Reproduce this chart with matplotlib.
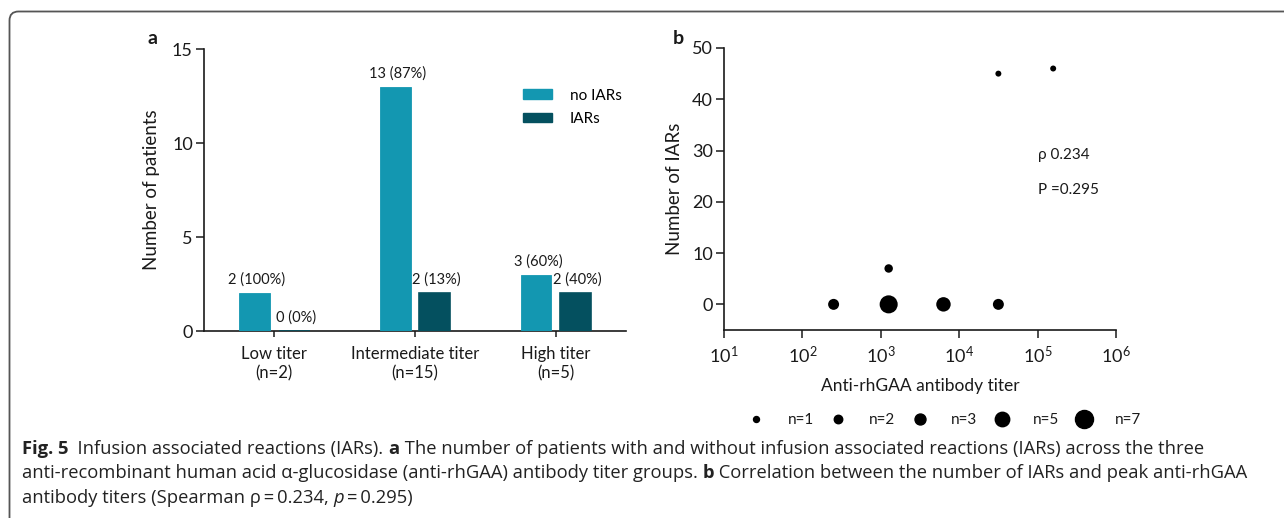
import numpy as np
import matplotlib
matplotlib.use("Agg")
import matplotlib.pyplot as plt
from matplotlib.lines import Line2D
from matplotlib.patches import Patch, FancyBboxPatch
from matplotlib.transforms import IdentityTransform

plt.rcParams["font.family"] = ["Lato", "DejaVu Sans"]

# ---- data -----------------------------------------------------------------
groups = ["Low titer", "Intermediate titer", "High titer"]
group_n = [2, 15, 5]
no_iars = [2, 13, 3]
iars = [0, 2, 2]

titer = [250, 1260, 1260, 6300, 31600, 31600, 158000]
n_iars = [0, 0, 7, 0, 0, 45, 46]
n_pat = [3, 7, 2, 5, 3, 1, 1]
legend_n = [1, 2, 3, 5, 7]

rho, pval = 0.234, 0.295

# ---- style ----------------------------------------------------------------
C_LIGHT = "#1397b1"
C_DARK = "#04505f"
INK = "#1a1a1a"
MS = {1: 4.3, 2: 6.1, 3: 7.9, 5: 10.4, 7: 13.0}  # marker diameter (pt) per n

W, H = 1284, 518
fig = plt.figure(figsize=(W / 100, H / 100), dpi=100)


def fbox(l, t, r, b):
    return [l / W, 1 - b / H, (r - l) / W, (b - t) / H]


# ---- panel a --------------------------------------------------------------
ax = fig.add_axes(fbox(204, 49, 626, 331))
x = np.arange(len(groups))
bw, off = 0.22, 0.14
b1 = ax.bar(x - off, no_iars, bw, color=C_LIGHT, ec=C_LIGHT, lw=0.6, zorder=3)
b2 = ax.bar(x + off, iars, bw, color=C_DARK, ec=C_DARK, lw=1.2, zorder=3)
for bars, vals in ((b1, no_iars), (b2, iars)):
    for rect, v, n in zip(bars, vals, group_n):
        ax.annotate(f"{v} ({round(100 * v / n)}%)",
                    (rect.get_x() + rect.get_width() / 2, v),
                    xytext=(1.5, 4.5), textcoords="offset points",
                    ha="center", va="bottom", fontsize=10.5, color=INK,
                    annotation_clip=False)
ax.set_xlim(-0.5, 2.5)
ax.set_ylim(0, 15)
ax.set_yticks([0, 5, 10, 15])
ax.set_xticks(x)
ax.set_xticklabels([f"{g}\n(n={n})" for g, n in zip(groups, group_n)],
                   fontsize=12, color=INK, linespacing=1.25)
ax.tick_params(axis="y", labelsize=13, colors=INK, length=6, width=1.1, pad=2)
ax.tick_params(axis="x", length=4, width=1.1, pad=7, colors=INK)
for s in ("top", "right"):
    ax.spines[s].set_visible(False)
for s in ("left", "bottom"):
    ax.spines[s].set_linewidth(1.2)
    ax.spines[s].set_color(INK)
ax.set_ylabel("Number of patients", fontsize=13.5, color=INK)
ax.yaxis.set_label_coords(-0.105, 0.5)
ax.legend(handles=[Patch(color=C_LIGHT, label="no IARs"),
                   Patch(color=C_DARK, label="IARs")],
          loc="upper left", bbox_to_anchor=(0.737, 0.887), frameon=False,
          fontsize=11, borderpad=0, handlelength=1.9, handleheight=0.55,
          handletextpad=1.2, labelspacing=0.6)
fig.text(152 / W, 1 - 38 / H, "a", fontsize=14, fontweight="bold",
         ha="center", va="center", color=INK)

# ---- panel b --------------------------------------------------------------
bx = fig.add_axes(fbox(724, 48, 1116, 330))
bx.scatter(titer, n_iars, s=[MS[n] ** 2 for n in n_pat], color="black",
           lw=0, zorder=3, clip_on=False)
bx.set_xscale("log")
bx.set_xlim(10, 1e6)
bx.set_ylim(-5, 50)
bx.set_yticks(np.arange(0, 51, 10))
bx.set_xticks([1e1, 1e2, 1e3, 1e4, 1e5, 1e6])
bx.xaxis.set_minor_locator(matplotlib.ticker.NullLocator())
bx.tick_params(axis="both", labelsize=13, colors=INK, length=6, width=1.1)
bx.tick_params(axis="x", pad=5)
bx.tick_params(axis="y", pad=2)
for s in ("top", "right"):
    bx.spines[s].set_visible(False)
for s in ("left", "bottom"):
    bx.spines[s].set_linewidth(1.2)
    bx.spines[s].set_color(INK)
bx.set_xlabel("Anti-rhGAA antibody titer", fontsize=12.5, color=INK, labelpad=8)
bx.set_ylabel("Number of IARs", fontsize=13.5, color=INK)
bx.yaxis.set_label_coords(-0.105, 0.5)
bx.text(0.80, 0.62, f"\u03c1 {rho}", transform=bx.transAxes, fontsize=11,
        va="center", color=INK)
bx.text(0.80, 0.496, f"P ={pval}", transform=bx.transAxes, fontsize=11,
        va="center", color=INK)
fig.text(678 / W, 1 - 38 / H, "b", fontsize=14, fontweight="bold",
         ha="center", va="center", color=INK)

size_handles = [Line2D([], [], ls="none", marker="o", color="black",
                       markersize=MS[n], label=f"n={n}") for n in legend_n]
fig.legend(handles=size_handles, ncol=len(legend_n), loc="center left",
           bbox_to_anchor=(737 / W, 1 - 420 / H), frameon=False, fontsize=11,
           borderpad=0, handlelength=1.5, handletextpad=1.3,
           columnspacing=0.84, labelcolor=INK)

# ---- caption --------------------------------------------------------------
cap_font = ["Open Sans", "DejaVu Sans"]
caption = [
    [("Fig. 5", "bold", "normal"), ("  Infusion associated reactions (IARs). ", "normal", "normal"),
     ("a", "bold", "normal"),
     (" The number of patients with and without infusion associated reactions (IARs) across the three",
      "normal", "normal")],
    [("anti-recombinant human acid \u03b1-glucosidase (anti-rhGAA) antibody titer groups. ", "normal", "normal"),
     ("b", "bold", "normal"),
     (" Correlation between the number of IARs and peak anti-rhGAA", "normal", "normal")],
    [("antibody titers (Spearman \u03c1\u2009=\u20090.234, ", "normal", "normal"), ("p", "normal", "italic"),
     ("\u2009=\u20090.295)", "normal", "normal")],
]
fig.canvas.draw()
renderer = fig.canvas.get_renderer()
for i, runs in enumerate(caption):
    xpos = 22
    ypos = 449 + i * 24.5
    for txt, wt, st in runs:
        t = fig.text(xpos / W, 1 - ypos / H, txt, fontsize=13.25, family=cap_font,
                     fontweight=wt, fontstyle=st, color="#222222", va="center")
        xpos += t.get_window_extent(renderer).width

# ---- frame ----------------------------------------------------------------
frame = FancyBboxPatch((9.5, -60), 1400, H - 11.5 + 60,
                       boxstyle="round,pad=0,rounding_size=9",
                       transform=IdentityTransform(), fill=False,
                       ec="#555555", lw=1.3)
fig.add_artist(frame)

fig.savefig("out.png", dpi=100)
